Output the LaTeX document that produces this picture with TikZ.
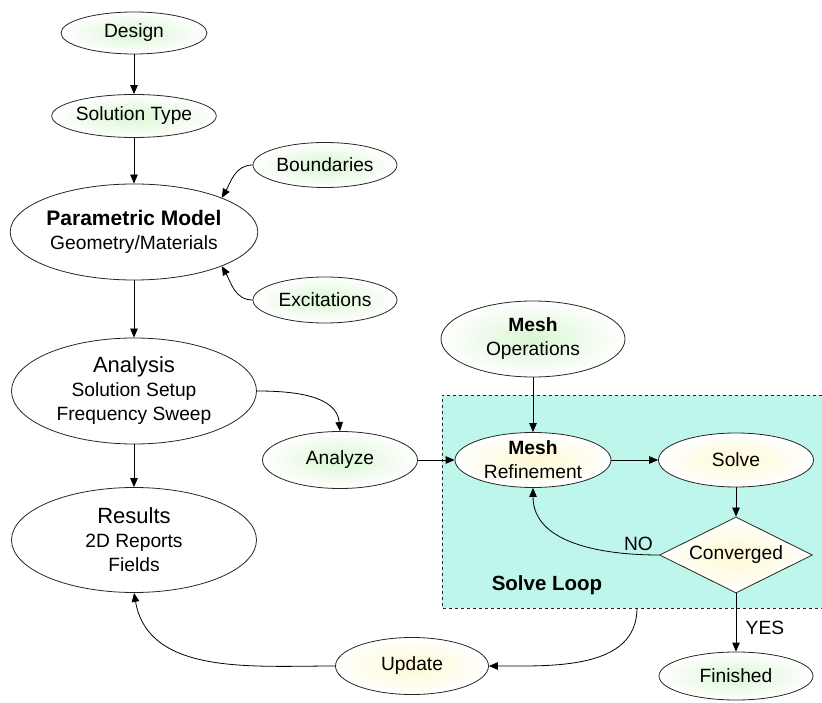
\documentclass[tikz,border=0pt]{standalone}
\usepackage{fontspec}
\setmainfont{Liberation Sans}
\usetikzlibrary{shapes.geometric,arrows.meta,positioning}
\definecolor{leafgreen}{RGB}{218,246,211}
\definecolor{loopyellow}{RGB}{255,249,210}
\definecolor{loopcyan}{RGB}{190,246,236}

\begin{document}
\begin{tikzpicture}[x=1pt, y=1pt, >={Triangle[length=9pt,width=7.5pt]},
                    line width=0.8pt,
                    stage/.style={ellipse, draw=black!85, inner sep=0pt, align=center,
                                  font=\fontsize{19.2}{24}\selectfont},
                    greenstage/.style={stage, shading=radial, inner color=leafgreen, outer color=white},
                    yellowstage/.style={stage, shading=radial, inner color=loopyellow, outer color=white},
                    bigstage/.style={stage, fill=white, minimum width=245pt},
                    decide/.style={diamond, aspect=2, draw=black!85, inner sep=0pt, align=center,
                                   shading=radial, inner color=loopyellow, outer color=white,
                                   font=\fontsize{19.2}{24}\selectfont}]
  \useasboundingbox (0,0) rectangle (822,702);

  % solve loop region
  \fill[loopcyan] (442,94) rectangle (822,307);
  \draw[dashed, black!85] (822,307) -- (442,307) -- (442,94) -- (822,94);
  \coordinate (loopout) at (637,94);
  \node[font=\bfseries\fontsize{20.5}{24}\selectfont] (looplabel) at (547,117) {Solve Loop};

  % main column
  \node[greenstage, minimum width=146pt, minimum height=42pt] (design) at (134,669) {Design};
  \node[greenstage, minimum width=141pt, minimum height=43pt] (soltype) at (134,586) {Solution Type};
  \node[bigstage, minimum height=96pt] (param) at (134,470)
       {{\bfseries\fontsize{21}{24}\selectfont Parametric Model}\\Geometry/Materials};
  \node[bigstage, minimum height=106pt] (analysis) at (134,311)
       {{\fontsize{22}{24}\selectfont Analysis}\\Solution Setup\\Frequency Sweep};
  \node[bigstage, minimum height=105pt] (results) at (134,162)
       {{\fontsize{22}{24}\selectfont Results}\\2D Reports\\Fields};

  % side inputs
  \node[greenstage, minimum width=144pt, minimum height=45pt] (bound) at (325,537) {Boundaries};
  \node[greenstage, minimum width=144pt, minimum height=46pt] (excit) at (325,402) {Excitations};
  \node[greenstage, minimum width=155pt, minimum height=57pt] (analyze) at (340,242) {Analyze};
  \node[greenstage, minimum width=184pt, minimum height=76pt] (meshops) at (533,363)
       {{\bfseries Mesh}\\Operations};
  \node[yellowstage, minimum width=153pt, minimum height=57pt] (update) at (412,36) {Update};

  % loop nodes
  \node[yellowstage, minimum width=156pt, minimum height=55pt] (meshref) at (533,242)
       {{\bfseries Mesh}\\Refinement};
  \node[yellowstage, minimum width=155pt, minimum height=54pt] (solve) at (736,242) {Solve};
  \node[decide, minimum width=153pt, minimum height=76pt] (conv) at (736,147) {Converged};
  \node[greenstage, minimum width=154pt, minimum height=48pt] (finished) at (736,26) {Finished};

  % connectors
  \draw[->] (design) -- (soltype);
  \draw[->] (soltype) -- (param);
  \draw[->] (bound.west) to[out=180, in=60] (param.north east);
  \draw[->] (excit.west) to[out=180, in=-60] (param.south east);
  \draw[->] (param) -- (analysis);
  \draw[->] (analysis) -- (results);
  \draw[->] (analysis.east) to[out=0, in=95] (analyze.north);
  \draw[->] (analyze) -- (meshref);
  \draw[->] (meshops) -- (meshref);
  \draw[->] (meshref) -- (solve);
  \draw[->] (solve) -- (conv);
  \draw[->] (conv.west) to[out=180, in=-90]
        node[pos=0.12, above, font=\fontsize{19.2}{24}\selectfont] {NO} (meshref.south);
  \draw[->] (conv) -- node[pos=0.6, right=6pt, font=\fontsize{19.2}{24}\selectfont] {YES} (finished);
  \draw[->] (loopout) to[out=-90, in=0] (update.east);
  \draw[->] (update.west) to[out=180, in=-80] (results.south);
\end{tikzpicture}
\end{document}
